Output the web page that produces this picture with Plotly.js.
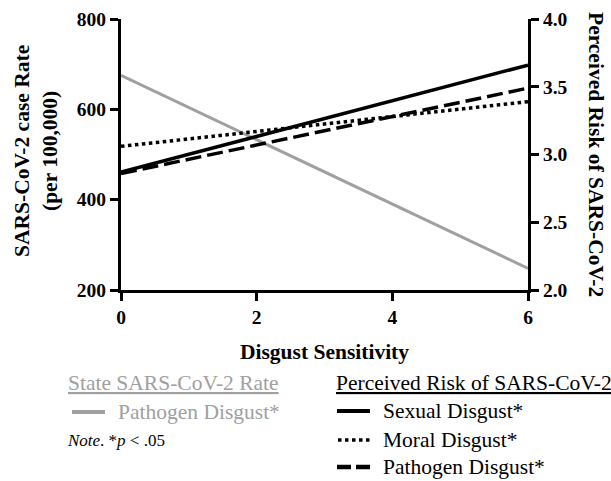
<!DOCTYPE html>
<html>
<head>
<meta charset="utf-8">
<script src="https://cdn.plot.ly/plotly-3.0.1.min.js"></script>
<style>html,body{margin:0;padding:0;background:#fff}#chart{width:611px;height:481px}</style>
</head>
<body>
<div id="chart"></div>
<script>
// Data
const xVals = [0, 6];
const stateRatePathogen = [675, 248];      // left axis: SARS-CoV-2 case rate (per 100,000)
const riskSexual = [2.87, 3.66];           // right axis: perceived risk
const riskMoral = [3.06, 3.39];
const riskPathogen = [2.86, 3.49];
const xTicks = [0, 2, 4, 6];
const leftTicks = [200, 400, 600, 800];
const rightTicks = [2.0, 2.5, 3.0, 3.5, 4.0];
const rightTickText = ['2.0', '2.5', '3.0', '3.5', '4.0'];

const serif = '"Liberation Serif", "Times New Roman", Times, serif';
const grey = '#a0a0a0';

const traces = [
  {x: xVals, y: stateRatePathogen, mode: 'lines', line: {color: grey, width: 3}, yaxis: 'y', cliponaxis: false},
  {x: xVals, y: riskMoral, mode: 'lines', line: {color: '#000', width: 3.5, dash: 'dot'}, yaxis: 'y2'},
  {x: xVals, y: riskPathogen, mode: 'lines', line: {color: '#000', width: 3.5, dash: '16px,6px'}, yaxis: 'y2'},
  {x: xVals, y: riskSexual, mode: 'lines', line: {color: '#000', width: 3.5}, yaxis: 'y2'}
];

const axisCommon = {
  showgrid: false, zeroline: false, showline: true, linecolor: '#000', linewidth: 3,
  ticks: 'outside', ticklen: 8, tickwidth: 3, tickcolor: '#000',
  tickfont: {family: serif, size: 19.5, color: '#000', weight: 'bold'}
};

const legFont = {family: serif, size: 21.5, color: '#000'};
const greyFont = {family: serif, size: 21.5, color: grey};
const titleFont = {family: serif, size: 21.5, color: '#000'};

function px(x) { return (x - 121) / 407; }
function py(y) { return (290 - y) / 271; }

const layout = {
  width: 611, height: 481,
  margin: {l: 121, r: 83, t: 19, b: 191},
  paper_bgcolor: '#fff', plot_bgcolor: '#fff',
  showlegend: false,
  font: {family: serif},
  xaxis: Object.assign({}, axisCommon, {range: [0, 6], tickvals: xTicks, ticktext: xTicks.map(String),
    title: {text: '<b>Disgust Sensitivity</b>', font: titleFont, standoff: 17}}),
  yaxis: Object.assign({}, axisCommon, {range: [200, 800], tickvals: leftTicks, ticktext: leftTicks.map(String)}),
  yaxis2: Object.assign({}, axisCommon, {range: [2, 4], overlaying: 'y', side: 'right', tickvals: rightTicks, ticktext: rightTickText}),
  annotations: [
    {xref: 'paper', yref: 'paper', x: px(36), y: py(151), xanchor: 'center', yanchor: 'middle', textangle: -90, showarrow: false,
      text: '<b>SARS-CoV-2 case Rate<br>(per 100,000)</b>', font: titleFont},
    {xref: 'paper', yref: 'paper', x: px(596), y: py(154), xanchor: 'center', yanchor: 'middle', textangle: 90, showarrow: false,
      text: '<b>Perceived Risk of SARS-CoV-2</b>', font: titleFont},
    {xref: 'paper', yref: 'paper', x: px(66), y: py(383), xanchor: 'left', yanchor: 'middle', showarrow: false,
      text: '<u>State SARS-CoV-2 Rate</u>', font: greyFont},
    {xref: 'paper', yref: 'paper', x: px(116), y: py(412), xanchor: 'left', yanchor: 'middle', showarrow: false,
      text: 'Pathogen Disgust*', font: greyFont},
    {xref: 'paper', yref: 'paper', x: px(65), y: py(440), xanchor: 'left', yanchor: 'middle', showarrow: false,
      text: '<i>Note</i>. *<i>p</i> < .05', font: {family: serif, size: 17, color: '#000'}},
    {xref: 'paper', yref: 'paper', x: px(334), y: py(383), xanchor: 'left', yanchor: 'middle', showarrow: false,
      text: '<u>Perceived Risk of SARS-CoV-2</u>', font: legFont},
    {xref: 'paper', yref: 'paper', x: px(381), y: py(411), xanchor: 'left', yanchor: 'middle', showarrow: false,
      text: 'Sexual Disgust*', font: legFont},
    {xref: 'paper', yref: 'paper', x: px(381), y: py(440), xanchor: 'left', yanchor: 'middle', showarrow: false,
      text: 'Moral Disgust*', font: legFont},
    {xref: 'paper', yref: 'paper', x: px(381), y: py(467), xanchor: 'left', yanchor: 'middle', showarrow: false,
      text: 'Pathogen Disgust*', font: legFont}
  ],
  shapes: [
    {type: 'line', xref: 'paper', yref: 'paper', x0: px(72), x1: px(105), y0: py(412), y1: py(412), line: {color: grey, width: 4}},
    {type: 'line', xref: 'paper', yref: 'paper', x0: px(337), x1: px(370), y0: py(411), y1: py(411), line: {color: '#000', width: 4}},
    {type: 'line', xref: 'paper', yref: 'paper', x0: px(338), x1: px(370), y0: py(440), y1: py(440), line: {color: '#000', width: 3.5, dash: 'dot'}},
    {type: 'line', xref: 'paper', yref: 'paper', x0: px(337), x1: px(370), y0: py(467), y1: py(467), line: {color: '#000', width: 4.5, dash: '14px,5px'}}
  ]
};

Plotly.newPlot('chart', traces, layout, {staticPlot: true, displayModeBar: false});
</script>
</body>
</html>
